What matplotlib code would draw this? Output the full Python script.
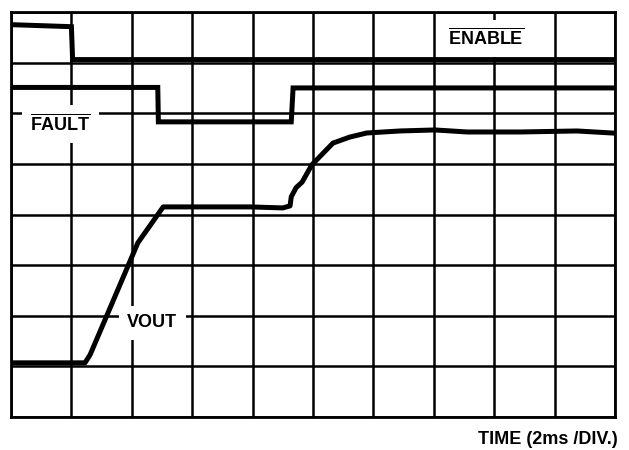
import matplotlib
matplotlib.use("Agg")
import matplotlib.pyplot as plt

plt.rcParams['font.family'] = ['Liberation Sans', 'DejaVu Sans']
plt.rcParams['mathtext.fontset'] = 'custom'
plt.rcParams['mathtext.rm'] = 'Liberation Sans'
plt.rcParams['mathtext.bf'] = 'Liberation Sans:bold'

# time in ms (2 ms per division), levels in screen divisions
enable_t = [0.0, 2.0, 2.04, 20.0]
enable_v = [7.75, 7.71, 7.06, 7.06]

fault_t = [0.0, 4.86, 4.88, 9.28, 9.34, 20.0]
fault_v = [6.51, 6.51, 5.83, 5.83, 6.50, 6.50]

vout_t = [0.0, 2.45, 2.62, 4.20, 5.04, 7.92, 9.0, 9.24, 9.28, 9.44, 9.64,
          9.96, 10.66, 11.22, 11.78, 12.88, 14.04, 15.10, 16.86, 18.74, 19.90]
vout_v = [1.07, 1.07, 1.23, 3.44, 4.15, 4.15, 4.13, 4.17, 4.35, 4.53, 4.64,
          4.98, 5.41, 5.53, 5.61, 5.65, 5.67, 5.63, 5.63, 5.65, 5.61]

fig = plt.figure(figsize=(6.29, 4.5), dpi=100)
ax = fig.add_axes([11 / 629, 33 / 450, 604 / 629, 405 / 450])
ax.set_xlim(0, 20)
ax.set_ylim(0, 8)
ax.set_xticks(range(0, 21, 2))
ax.set_yticks(range(0, 9))
ax.tick_params(length=0, labelbottom=False, labelleft=False)
ax.grid(True, color='black', linewidth=1.8)
ax.set_axisbelow(True)
for s in ax.spines.values():
    s.set_linewidth(2)

lw = 3.6
ax.plot(enable_t, enable_v, color='black', lw=lw, solid_joinstyle='miter', zorder=4)
ax.plot(fault_t, fault_v, color='black', lw=lw, solid_joinstyle='miter', zorder=4)
ax.plot(vout_t, vout_v, color='black', lw=lw, zorder=4)

box = dict(facecolor='white', edgecolor='none', pad=6)
ax.text(15.72, 7.48, r'$\overline{\mathbf{ENABLE}}$', fontsize=13,
        ha='center', va='center', bbox=box, zorder=3)
ax.text(1.64, 5.79, r'$\overline{\mathbf{FAULT}}$', fontsize=13,
        ha='center', va='center', bbox=box, zorder=3)
ax.text(4.68, 1.86, 'VOUT', fontsize=13, fontweight='bold',
        ha='center', va='center', bbox=box, zorder=3)

fig.text(618 / 629, 1 - 439 / 450, 'TIME (2ms /DIV.)', fontsize=13,
         fontweight='bold', ha='right', va='center')

fig.savefig('out.png', dpi=100)
